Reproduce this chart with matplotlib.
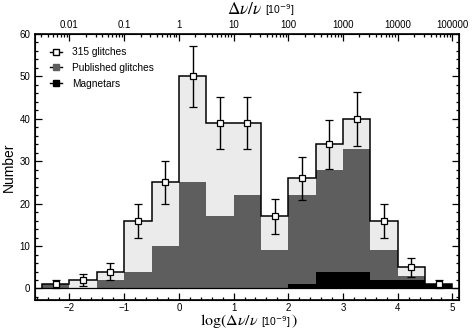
import numpy as np
import matplotlib.pyplot as plt
from matplotlib.lines import Line2D

plt.rc('font', family=['Liberation Sans', 'DejaVu Sans'])
plt.rc('mathtext', fontset='stix')

##################
## Data
##################
edges = np.arange(-2.5, 5.01, 0.5)
n_all = [1, 2, 4, 16, 25, 50, 39, 39, 17, 26, 34, 40, 16, 5, 1]
n_pub = [1, 0, 2, 4, 10, 25, 17, 22, 9, 22, 28, 33, 9, 3, 1]
n_mag = [0, 0, 0, 0, 0, 0, 0, 0, 0, 1, 4, 4, 2, 2, 1]
err_all = [1.0, 1.4, 2.0, 4.0, 5.0, 7.1, 6.2, 6.2, 4.1, 5.1, 5.8, 6.3, 4.0, 2.2, 0.9]

top_pos = [-2, -1, 0, 1, 2, 3, 4, 5]
top_lab = ['0.01', '0.1', '1', '10', '100', '1000', '10000', '100000']

centers = 0.5 * (edges[:-1] + edges[1:])

W, H = 474., 335.


def chain_text(fig, x0, y0, pieces):
    # write text pieces one after the other, starting at pixel x0, baseline y0
    r = fig.canvas.get_renderer()
    x = x0
    for s, gap, kw in pieces:
        t = fig.text((x + gap)/W, 1-y0/H, s, ha='left', va='baseline', **kw)
        x = t.get_window_extent(r).x1


##################
## Plot
##################
fig = plt.figure(figsize=(W/100, H/100), dpi=100)
ax = fig.add_axes([35/W, 1-299.5/H, 424/W, 265.5/H])

ax.stairs(n_all, edges, fill=True, color='#ebebeb', zorder=1)
ax.stairs(n_pub, edges, fill=True, color='#5e5e5e', zorder=2)
ax.stairs(n_mag, edges, fill=True, color='black', zorder=3)
ax.stairs(n_all, edges, color='black', lw=1.1, zorder=4)
ax.axhline(0, color='black', lw=0.9, zorder=4)
ax.errorbar(centers, n_all, yerr=err_all, fmt='s', ms=4, mfc='white', mec='black',
            mew=0.9, ecolor='black', elinewidth=1, capsize=3, capthick=1, zorder=5)

ax.set_xlim(-2.63, 5.12)
ax.set_ylim(-2.6, 60)
ax.set_xticks(np.arange(-2, 6, 1))
ax.set_xticks(np.arange(-2.6, 5.2, 0.2), minor=True)
ax.set_yticks(np.arange(0, 61, 10))
ax.set_yticks(np.arange(-2, 61, 2), minor=True)
ax.tick_params(which='both', direction='in', right=True, labelsize=7, width=0.9)
ax.tick_params(which='major', length=5)
ax.tick_params(which='minor', length=2.5)
ax.tick_params(axis='x', which='both', top=False, pad=2.5)
for s in ax.spines.values():
    s.set_linewidth(1.2)

ax.set_ylabel('Number', fontsize=10)
ax.yaxis.set_label_coords(-0.046, 0.5)

# bottom label: serif math + small sans unit
chain_text(fig, 200, 325.5, [
    (r'$\mathrm{log}(\Delta\nu/\nu$', 0, dict(fontsize=11.5)),
    (r'[10$^{-9}$]', 2, dict(fontsize=7.5, math_fontfamily='dejavusans')),
    (r'$)$', 0.5, dict(fontsize=11.5)),
])

# top axis in linear units
ax2 = ax.twiny()
ax2.set_xlim(ax.get_xlim())
ax2.set_xticks(top_pos)
ax2.set_xticklabels(top_lab)
minor = [d + np.log10(k) for d in range(-3, 5) for k in range(2, 10)]
minor = [m for m in minor if -2.63 < m < 5.12]
ax2.set_xticks(minor, minor=True)
ax2.tick_params(which='both', direction='in', labelsize=7, width=0.9, pad=3)
ax2.tick_params(which='major', length=5)
ax2.tick_params(which='minor', length=2.5)

chain_text(fig, 227, 14.5, [
    (r'$\Delta\nu/\nu$', 0, dict(fontsize=12.5)),
    (r'[10$^{-9}$]', 2, dict(fontsize=7.5, math_fontfamily='dejavusans')),
])

handles = [
    Line2D([], [], color='black', marker='s', ms=4, mfc='white', mec='black', lw=1),
    Line2D([], [], color='black', marker='s', ms=4, mfc='#5e5e5e', mec='#5e5e5e', lw=1),
    Line2D([], [], color='black', marker='s', ms=4, mfc='black', mec='black', lw=1),
]
ax.legend(handles, ['315 glitches', 'Published glitches', 'Magnetars'], loc='upper left',
          frameon=False, fontsize=7.3, handlelength=1.25, handletextpad=1.0,
          labelspacing=0.55, borderaxespad=0.0, bbox_to_anchor=(0.025, 0.965))

fig.savefig('out.png', dpi=100)
